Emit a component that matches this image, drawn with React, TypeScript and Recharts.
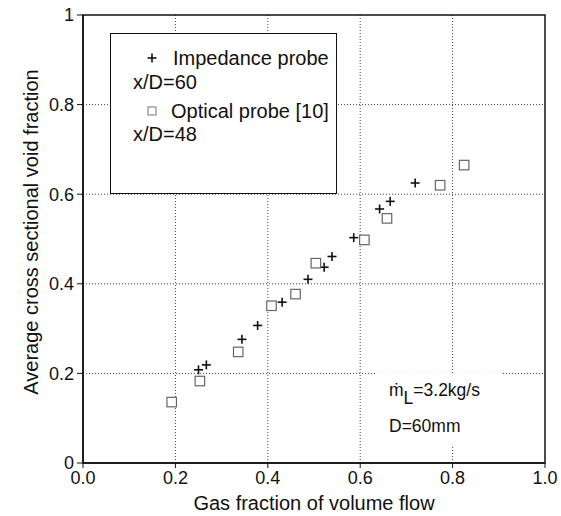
import React from 'react';
import {
  ScatterChart,
  Scatter,
  XAxis,
  YAxis,
  CartesianGrid,
  ReferenceArea,
} from 'recharts';

// Impedance probe, x/D = 60
const impedanceX = [0.25, 0.267, 0.344, 0.378, 0.431, 0.487, 0.522, 0.539, 0.586, 0.642, 0.665, 0.719];
const impedanceY = [0.208, 0.219, 0.276, 0.307, 0.359, 0.41, 0.437, 0.461, 0.503, 0.567, 0.584, 0.625];

// Optical probe [10], x/D = 48
const opticalX = [0.192, 0.253, 0.336, 0.408, 0.46, 0.504, 0.609, 0.658, 0.773, 0.825];
const opticalY = [0.136, 0.183, 0.248, 0.351, 0.377, 0.446, 0.498, 0.546, 0.62, 0.665];

const xTicks = [0, 0.2, 0.4, 0.6, 0.8, 1];
const yTicks = [0, 0.2, 0.4, 0.6, 0.8, 1];

const impedanceData = impedanceX.map((x, i) => ({ x, y: impedanceY[i] }));
const opticalData = opticalX.map((x, i) => ({ x, y: opticalY[i] }));

const FONT = '"Liberation Sans", Arial, Helvetica, sans-serif';

const PlusShape = (props: any) => {
  const { cx, cy } = props;
  const r = 4.5;
  return (
    <g>
      <line x1={cx - r} y1={cy} x2={cx + r} y2={cy} stroke="#111" strokeWidth={1.6} />
      <line x1={cx} y1={cy - r} x2={cx} y2={cy + r} stroke="#111" strokeWidth={1.6} />
    </g>
  );
};

const SquareShape = (props: any) => {
  const { cx, cy } = props;
  const s = 9.5;
  return <rect x={cx - s / 2} y={cy - s / 2} width={s} height={s} fill="#fff" stroke="#666" strokeWidth={1.2} />;
};

const row = (top: number, left: number, text: string) => (
  <div style={{ position: 'absolute', left, top: top - 12, height: 24, lineHeight: '24px', whiteSpace: 'nowrap' }}>
    {text}
  </div>
);

// legend box drawn over the plot, like the original figure
const LegendBox = () => (
  <div
    style={{
      position: 'absolute', left: 110, top: 33, width: 227, height: 161,
      border: '1.5px solid #111', background: '#fff', boxSizing: 'border-box',
      fontFamily: FONT, fontSize: 20, color: '#111',
    }}
  >
    <svg width={227} height={161} style={{ position: 'absolute', left: 0, top: 0 }}>
      <PlusShape cx={41} cy={24} />
      <rect x={37} y={73} width={8} height={8} fill="#fff" stroke="#777" strokeWidth={1} />
    </svg>
    {row(24, 62, 'Impedance probe')}
    {row(48, 22, 'x/D=60')}
    {row(77, 60, 'Optical probe [10]')}
    {row(100, 22, 'x/D=48')}
  </div>
);

const tickFmtY = (v: number) => (v === 0 || v === 1 ? String(v) : v.toFixed(1));

const YTitle = (props: any) => {
  const { viewBox } = props;
  const cx = 31;
  const cy = viewBox.y + viewBox.height / 2 - 7;
  return (
    <text
      x={cx}
      y={cy}
      transform={`rotate(-90 ${cx} ${cy})`}
      textAnchor="middle"
      dominantBaseline="central"
      fontFamily={FONT}
      fontSize={20}
      fill="#111"
    >
      Average cross sectional void fraction
    </text>
  );
};

const XTitle = (props: any) => {
  const { viewBox } = props;
  const cx = viewBox.x + viewBox.width / 2;
  return (
    <text x={cx} y={510} textAnchor="middle" fontFamily={FONT} fontSize={20} fill="#111">
      Gas fraction of volume flow
    </text>
  );
};

export default function App() {
  return (
    <div style={{ position: 'absolute', left: 0, top: 0, width: 561, height: 516, background: '#fff' }}>
      <ScatterChart width={561} height={516} margin={{ top: 15, right: 16, bottom: 0, left: 0 }}>
        <CartesianGrid
          stroke="#444"
          strokeDasharray="1 2"
          horizontalValues={[0.2, 0.4, 0.6, 0.8]}
          verticalValues={[0.2, 0.4, 0.6, 0.8]}
        />
        <XAxis
          type="number"
          dataKey="x"
          domain={[0, 1]}
          ticks={xTicks}
          tickFormatter={(v: number) => v.toFixed(1)}
          height={53}
          tickSize={5}
          tickMargin={3}
          axisLine={{ stroke: '#111', strokeWidth: 1.5 }}
          tickLine={{ stroke: '#111' }}
          tick={{ fill: '#111', fontSize: 18, fontFamily: FONT }}
          label={<XTitle />}
        />
        <YAxis
          type="number"
          dataKey="y"
          domain={[0, 1]}
          ticks={yTicks}
          tickFormatter={tickFmtY}
          width={83}
          tickSize={6}
          tickMargin={3}
          axisLine={{ stroke: '#111', strokeWidth: 1.5 }}
          tickLine={{ stroke: '#111' }}
          tick={{ fill: '#111', fontSize: 18, fontFamily: FONT }}
          label={<YTitle />}
        />
        <ReferenceArea x1={0} x2={1} y1={0} y2={1} fill="none" stroke="#111" strokeWidth={1.5} />
        <Scatter name="Impedance probe" data={impedanceData} shape={<PlusShape />} isAnimationActive={false} />
        <Scatter name="Optical probe [10]" data={opticalData} shape={<SquareShape />} isAnimationActive={false} />
      </ScatterChart>
      <LegendBox />
      {/* white patch behind the flow-rate note, the grid stops around it */}
      <div style={{ position: 'absolute', left: 376, top: 373, width: 126, height: 74, background: '#fff' }} />
      <div style={{ position: 'absolute', left: 389, top: 380, fontFamily: FONT, fontSize: 17.5, color: '#111', whiteSpace: 'nowrap' }}>
        <span>ṁ</span>
        <span style={{ position: 'relative', top: 8 }}>L</span>
        <span>=3.2kg/s</span>
      </div>
      <div style={{ position: 'absolute', left: 389, top: 416, fontFamily: FONT, fontSize: 17.5, color: '#111', whiteSpace: 'nowrap' }}>
        D=60mm
      </div>
    </div>
  );
}
